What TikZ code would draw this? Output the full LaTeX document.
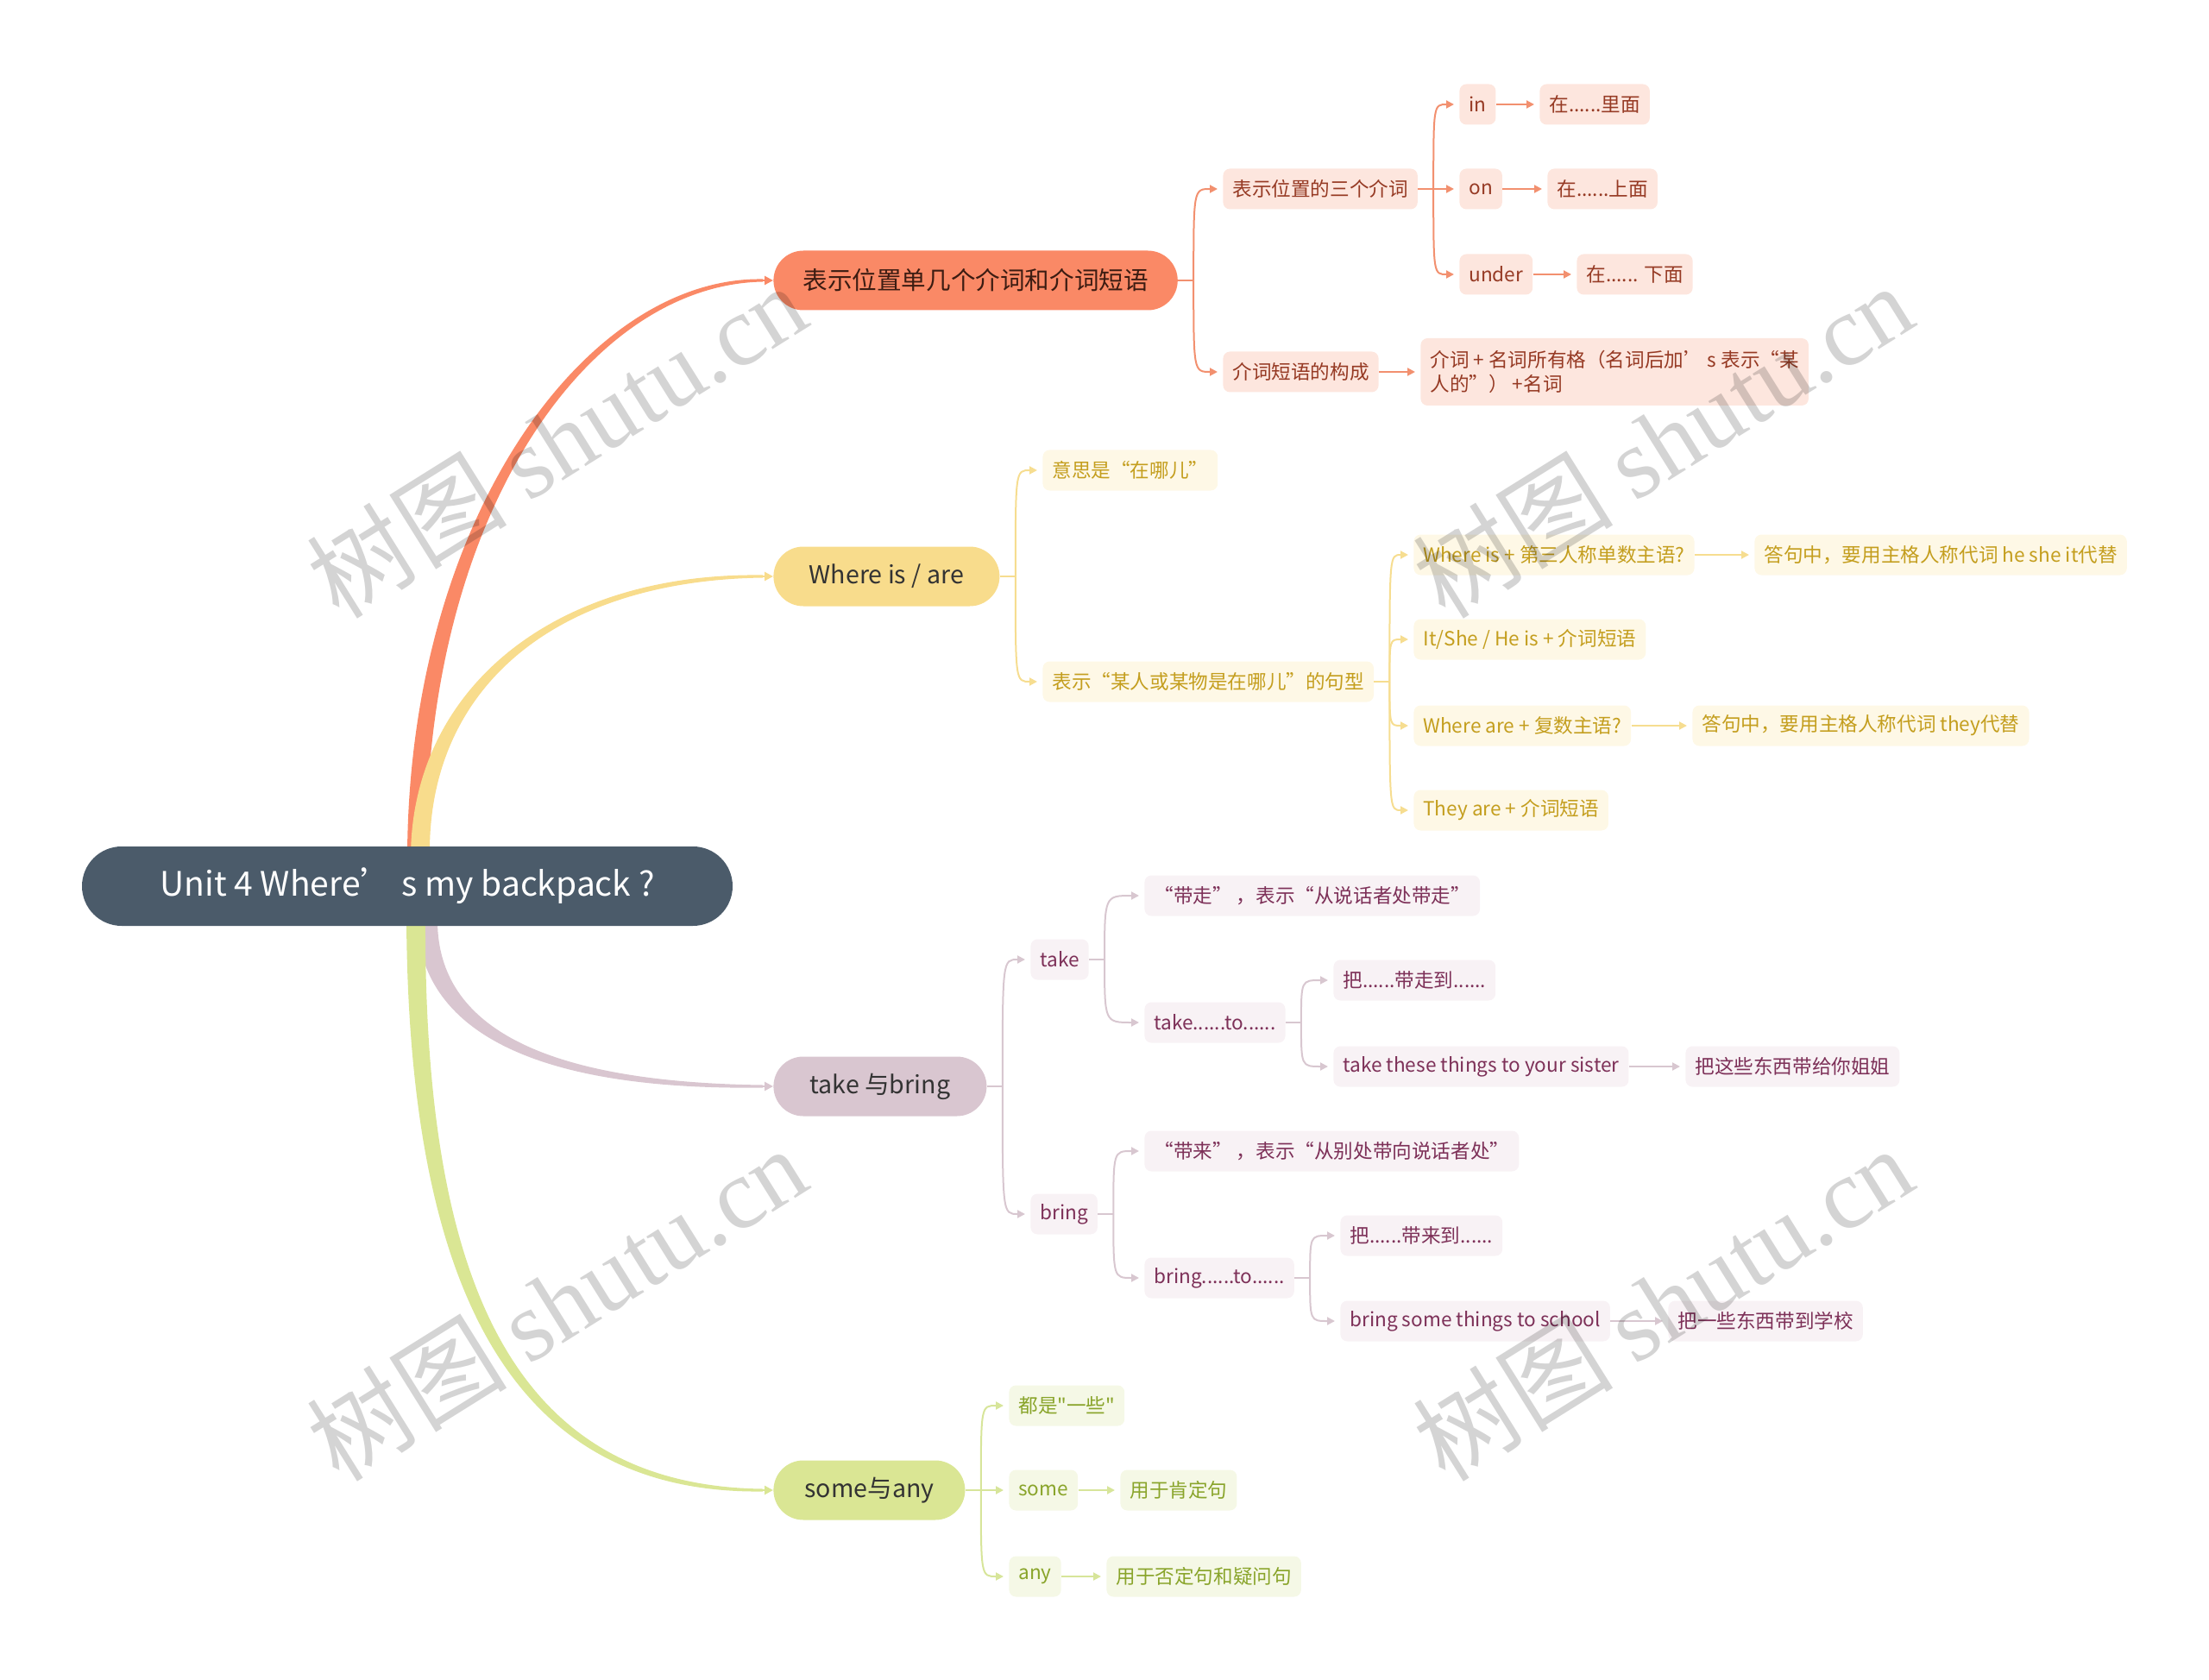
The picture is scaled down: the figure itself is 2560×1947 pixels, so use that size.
\documentclass[tikz,border=0pt]{standalone}
\usepackage{fontspec}
\setmainfont{Noto Sans CJK SC}[Ligatures=TeXOff]
\newfontfamily\wmfont{Liberation Serif}
\usetikzlibrary{calc, arrows.meta, backgrounds}

\definecolor{rootC}{HTML}{4B5B6A}
\definecolor{redB}{HTML}{FA8966}
\definecolor{redL}{HTML}{F2906F}
\definecolor{redS}{HTML}{FDE6DE}
\definecolor{redT}{HTML}{963A24}
\definecolor{redD}{HTML}{3C1C12}
\definecolor{yelB}{HTML}{F8DC8C}
\definecolor{yelL}{HTML}{F6DD90}
\definecolor{yelS}{HTML}{FEF8E6}
\definecolor{yelT}{HTML}{C49E1E}
\definecolor{mauB}{HTML}{D9C6D0}
\definecolor{mauL}{HTML}{D8C7D0}
\definecolor{mauS}{HTML}{F8F2F5}
\definecolor{mauT}{HTML}{7D3058}
\definecolor{grnB}{HTML}{DAE694}
\definecolor{grnL}{HTML}{D7E59A}
\definecolor{grnS}{HTML}{F5F8E6}
\definecolor{grnT}{HTML}{89A42A}

\tikzset{
  rootbox/.style={fill=rootC, text=white, rounded corners=23pt, minimum height=46pt,
    minimum width=377pt, font=\fontsize{19.5}{22}\selectfont},
  main/.style={anchor=west, rounded corners=17.25pt, minimum height=34.5pt,
    inner xsep=17pt, text=black!80, font=\fontsize{14.3}{17}\selectfont},
  leaf/.style={anchor=west, rounded corners=4pt, minimum height=23.5pt,
    inner xsep=5.5pt, inner ysep=2pt, font=\fontsize{11.3}{14}\selectfont},
  rleaf/.style={leaf, fill=redS, text=redT},
  yleaf/.style={leaf, fill=yelS, text=yelT},
  mleaf/.style={leaf, fill=mauS, text=mauT},
  gleaf/.style={leaf, fill=grnS, text=grnT},
  tip/.style={shorten >=3pt, -{Triangle[length=4.5pt,width=4.5pt]}},
  rline/.style={draw=redL, line width=1pt},
  yline/.style={draw=yelL, line width=1pt},
  mline/.style={draw=mauL, line width=1pt},
  gline/.style={draw=grnL, line width=1pt},
  braceto/.style={to path={.. controls (\tikztostart |- \tikztotarget) .. (\tikztotarget)}},
  wmark/.style={text=black, text opacity=0.17, rotate=32, font=\fontsize{58}{58}\selectfont},
}

\begin{document}
\begin{tikzpicture}[x=0.5pt, y=-0.5pt]
  \useasboundingbox (0,0) rectangle (2560,1947);

  % root
  \node[rootbox] (root) at (472,1027) {Unit 4 Where’ s my backpack ?};

  % prepositions
  \node[main, fill=redB, text=redD] (b1) at (896,325) {表示位置单几个介词和介词短语};
  \node[rleaf] (r1) at (1417,219) {表示位置的三个介词};
  \node[rleaf] (r11) at (1691,121) {in};
  \node[rleaf] (r11a) at (1784,121) {在......里面};
  \node[rleaf] (r12) at (1691,219) {on};
  \node[rleaf] (r12a) at (1793,219) {在......上面};
  \node[rleaf] (r13) at (1691,318) {under};
  \node[rleaf] (r13a) at (1827,318) {在...... 下面};
  \node[rleaf] (r2) at (1417,431) {介词短语的构成};
  \node[rleaf, align=left, minimum height=39pt] (r2a) at (1646,431)
    {介词 + 名词所有格（名词后加’ s 表示“某\\人的”） +名词};

  \coordinate (f1) at ($(b1.east)+(18,0)$);
  \draw[rline] (b1.east) -- (f1);
  \foreach \n in {r1,r2} \draw[rline, tip] (f1) to[braceto] (\n.west);
  \coordinate (f11) at ($(r1.east)+(18,0)$);
  \draw[rline] (r1.east) -- (f11);
  \foreach \n in {r11,r12,r13} \draw[rline, tip] (f11) to[braceto] (\n.west);
  \foreach \a/\b in {r11/r11a, r12/r12a, r13/r13a, r2/r2a}
    \draw[rline, tip] (\a.east) -- (\b.west);

  % where is / are
  \node[main, fill=yelB, minimum width=131pt] (b2) at (896,668) {Where is / are};
  \node[yleaf] (y1) at (1208,545) {意思是“在哪儿”};
  \node[yleaf] (y2) at (1208,790) {表示“某人或某物是在哪儿”的句型};
  \node[yleaf] (y21) at (1638,643) {Where is + 第三人称单数主语?};
  \node[yleaf] (y21a) at (2033,643) {答句中，要用主格人称代词 he she it代替};
  \node[yleaf] (y22) at (1638,741) {It/She / He is + 介词短语};
  \node[yleaf] (y23) at (1638,841) {Where are + 复数主语?};
  \node[yleaf] (y23a) at (1961,841) {答句中，要用主格人称代词 they代替};
  \node[yleaf] (y24) at (1638,939) {They are + 介词短语};

  \coordinate (f2) at ($(b2.east)+(18,0)$);
  \draw[yline] (b2.east) -- (f2);
  \foreach \n in {y1,y2} \draw[yline, tip] (f2) to[braceto] (\n.west);
  \coordinate (f22) at ($(y2.east)+(18,0)$);
  \draw[yline] (y2.east) -- (f22);
  \foreach \n in {y21,y22,y23,y24} \draw[yline, tip] (f22) to[braceto] (\n.west);
  \foreach \a/\b in {y21/y21a, y23/y23a}
    \draw[yline, tip] (\a.east) -- (\b.west);

  % take and bring
  \node[main, fill=mauB, minimum width=123.5pt] (b3) at (896,1259) {take 与bring};
  \node[mleaf] (m1) at (1194,1112) {take};
  \node[mleaf] (m11) at (1326,1038) {“带走” ，表示“从说话者处带走”};
  \node[mleaf] (m12) at (1326,1185) {take......to......};
  \node[mleaf] (m121) at (1545,1136) {把......带走到......};
  \node[mleaf] (m122) at (1545,1236) {take these things to your sister};
  \node[mleaf] (m122a) at (1953,1236) {把这些东西带给你姐姐};
  \node[mleaf] (m2) at (1194,1407) {bring};
  \node[mleaf] (m21) at (1326,1334) {“带来” ，表示“从别处带向说话者处”};
  \node[mleaf] (m22) at (1326,1481) {bring......to......};
  \node[mleaf] (m221) at (1553,1432) {把......带来到......};
  \node[mleaf] (m222) at (1553,1531) {bring some things to school};
  \node[mleaf] (m222a) at (1933,1531) {把一些东西带到学校};

  \coordinate (f3) at ($(b3.east)+(18,0)$);
  \draw[mline] (b3.east) -- (f3);
  \foreach \n in {m1,m2} \draw[mline, tip] (f3) to[braceto] (\n.west);
  \foreach \p/\c in {m1/m11, m1/m12, m12/m121, m12/m122, m2/m21, m2/m22, m22/m221, m22/m222} {
    \coordinate (f\p) at ($(\p.east)+(18,0)$);
    \draw[mline] (\p.east) -- (f\p);
    \draw[mline, tip] (f\p) to[braceto] (\c.west);
  }
  \foreach \a/\b in {m122/m122a, m222/m222a}
    \draw[mline, tip] (\a.east) -- (\b.west);

  % some and any
  \node[main, fill=grnB, minimum width=111pt] (b4) at (896,1727) {some与any};
  \node[gleaf] (g1) at (1169,1629) {都是"一些"};
  \node[gleaf] (g2) at (1169,1727) {some};
  \node[gleaf] (g2a) at (1298,1727) {用于肯定句};
  \node[gleaf] (g3) at (1169,1827) {any};
  \node[gleaf] (g3a) at (1282,1827) {用于否定句和疑问句};

  \coordinate (f4) at ($(b4.east)+(18,0)$);
  \draw[gline] (b4.east) -- (f4);
  \foreach \n in {g1,g2,g3} \draw[gline, tip] (f4) to[braceto] (\n.west);
  \foreach \a/\b in {g2/g2a, g3/g3a}
    \draw[gline, tip] (\a.east) -- (\b.west);

  % main branches
  \begin{scope}[on background layer]
    \fill[redB] ($(root.north)+(0,10)$) .. controls ($(root.north)+(2,-381)$) and ($(b1.west)+(-216,-5)$)
      .. ($(b1.west)+(-12,-1.5)$) -- ($(b1.west)+(-12,1.5)$)
      .. controls ($(b1.west)+(-216,5)$) and ($(root.north)+(20,-381)$) .. ($(root.north)+(22,10)$) -- cycle;
    \fill[yelB] ($(root.north)+(4,10)$) .. controls ($(root.north)+(6,-181)$) and ($(b2.west)+(-256,-5)$)
      .. ($(b2.west)+(-12,-1.5)$) -- ($(b2.west)+(-12,1.5)$)
      .. controls ($(b2.west)+(-256,5)$) and ($(root.north)+(24,-181)$) .. ($(root.north)+(26,10)$) -- cycle;
    \fill[mauB] ($(root.south)+(11,-10)$) .. controls ($(root.south)+(13,122)$) and ($(b3.west)+(-276,5)$)
      .. ($(b3.west)+(-12,1.5)$) -- ($(b3.west)+(-12,-1.5)$)
      .. controls ($(b3.west)+(-276,-5)$) and ($(root.south)+(33,112)$) .. ($(root.south)+(35,-10)$) -- cycle;
    \fill[grnB] ($(root.south)+(-1,-10)$) .. controls ($(root.south)+(1,432)$) and ($(b4.west)+(-296,5)$)
      .. ($(b4.west)+(-12,1.5)$) -- ($(b4.west)+(-12,-1.5)$)
      .. controls ($(b4.west)+(-296,-5)$) and ($(root.south)+(19,422)$) .. ($(root.south)+(21,-10)$) -- cycle;
    \foreach \b/\c in {b1/redB, b2/yelB, b3/mauB, b4/grnB}
      \draw[\c, line width=1.4pt, -{Triangle[length=5pt,width=5pt]}] ($(\b.west)+(-14,0)$) -- (\b.west);
  \end{scope}

  % watermark
  \foreach \x/\y/\i in {645/510/1, 1927/510/2, 645/1510/3, 1927/1510/4}
    \node[wmark] (wm\i) at (\x,\y) {树图 {\wmfont shutu.cn}};
\end{tikzpicture}
\end{document}
